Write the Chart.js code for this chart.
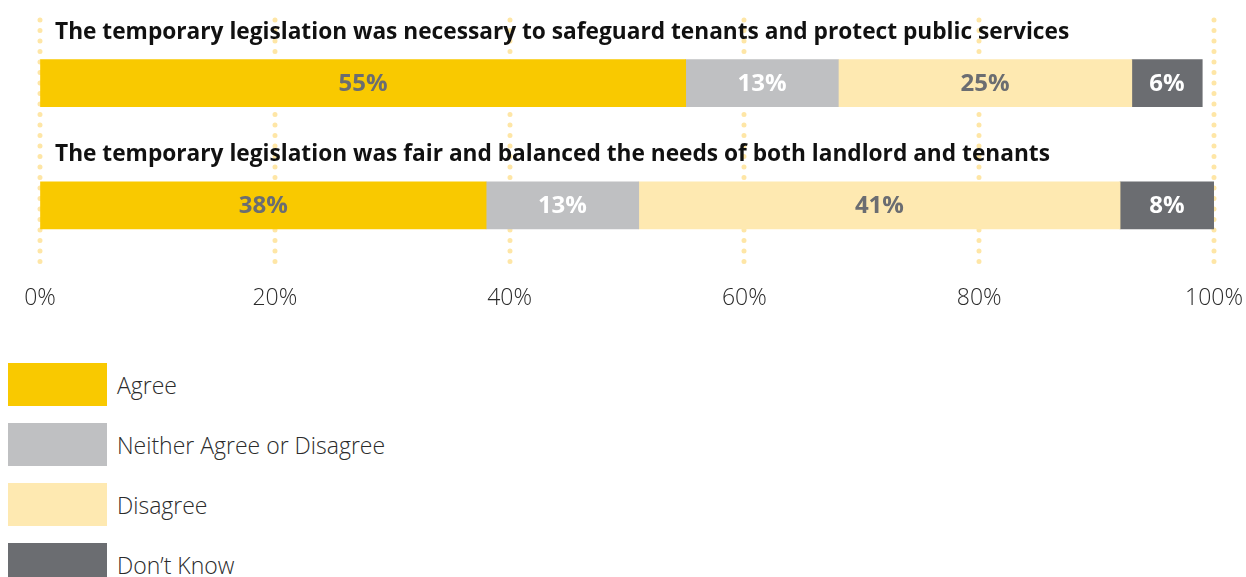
<!DOCTYPE html>
<html>
<head>
<meta charset="utf-8">
<script src="https://cdn.jsdelivr.net/npm/chart.js@4"></script>
<style>
  body { margin: 0; background: #fff; font-family: "Open Sans", sans-serif; }
  #wrap { position: relative; width: 1246px; height: 577px; overflow: hidden; }
  #chartBox { position: absolute; left: 0; top: 0; width: 1246px; height: 322px; }
  #legend { position: absolute; left: 8px; top: 363px; }
  .item { display: flex; align-items: center; height: 43px; margin-bottom: 17px; }
  .swatch { width: 99px; height: 43px; margin-right: 10px; }
  .item span { font-size: 23px; font-weight: 300; color: #2b2b2b; }
</style>
</head>
<body>
<div id="wrap">
  <div id="chartBox"><canvas id="chart"></canvas></div>
  <div id="legend"></div>
</div>
<script>
// statements asked about
let questions = [
    "The temporary legislation was necessary to safeguard tenants and protect public services",
    "The temporary legislation was fair and balanced the needs of both landlord and tenants"
];

let seriesNames = ["Agree", "Neither Agree or Disagree", "Disagree", "Don\u2019t Know"];
let agree = [55, 38];
let neither = [13, 13];
let disagree = [25, 41];
let dontKnow = [6, 8];

let xTicks = [0, 20, 40, 60, 80, 100];

let fillColours = ["#f9c900", "#bfc0c2", "#fee9b1", "#6b6d71"];
let labelColours = ["#6b6d71", "#ffffff", "#6b6d71", "#ffffff"];

let allSeries = [agree, neither, disagree, dontKnow];

// round dotted grid lines behind the bars
const dottedGrid = {
    id: "dottedGrid",
    beforeDatasetsDraw(chart) {
        const ctx = chart.ctx;
        const area = chart.chartArea;
        const x = chart.scales.x;
        ctx.save();
        ctx.strokeStyle = "#fee6a6";
        ctx.lineWidth = 5;
        ctx.lineCap = "round";
        ctx.setLineDash([0, 10.5]);
        xTicks.forEach(function (t) {
            let px = Math.round(x.getPixelForValue(t));
            ctx.beginPath();
            ctx.moveTo(px, area.top - 2);
            ctx.lineTo(px, area.bottom + 3);
            ctx.stroke();
        });
        ctx.restore();
    }
};

// statement above each bar + percentage inside each segment
const barText = {
    id: "barText",
    afterDatasetsDraw(chart) {
        const ctx = chart.ctx;
        const y = chart.scales.y;
        ctx.save();
        ctx.textBaseline = "middle";
        ctx.font = "bold 22.7px 'Open Sans'";
        ctx.fillStyle = "#111111";
        ctx.textAlign = "left";
        questions.forEach(function (q, i) {
            ctx.fillText(q, 55, y.getPixelForValue(i) - 51);
        });
        ctx.textAlign = "center";
        ctx.font = "bold 24px 'Open Sans'";
        chart.data.datasets.forEach(function (ds, d) {
            const meta = chart.getDatasetMeta(d);
            meta.data.forEach(function (bar, i) {
                let left = Math.min(bar.x, bar.base);
                let w = Math.abs(bar.x - bar.base);
                ctx.fillStyle = labelColours[d];
                ctx.fillText(ds.data[i] + "%", left + w / 2, bar.y + 1);
            });
        });
        ctx.restore();
    }
};

let datasets = seriesNames.map(function (name, i) {
    return {
        label: name,
        data: allSeries[i],
        backgroundColor: fillColours[i],
        borderWidth: 0,
        barThickness: 47
    };
});

new Chart(document.getElementById("chart"), {
    type: "bar",
    data: { labels: questions, datasets: datasets },
    options: {
        indexAxis: "y",
        responsive: true,
        maintainAspectRatio: false,
        animation: false,
        layout: { padding: { left: 40, right: 32, top: 22, bottom: 10 } },
        plugins: { legend: { display: false }, tooltip: { enabled: false } },
        scales: {
            x: {
                stacked: true,
                min: 0,
                max: 100,
                afterBuildTicks: function (scale) {
                    scale.ticks = xTicks.map(function (v) { return { value: v }; });
                },
                // invisible tick marks give the gap above the labels
                grid: { display: true, color: "rgba(0,0,0,0)", drawOnChartArea: false, drawTicks: true, tickLength: 18 },
                border: { display: false },
                ticks: {
                    padding: 0,
                    color: "#2b2b2b",
                    font: { family: "Open Sans", size: 23, weight: "300" },
                    callback: function (v) { return v + "%"; }
                }
            },
            y: {
                stacked: true,
                display: false
            }
        }
    },
    plugins: [dottedGrid, barText]
});

// legend list under the chart
let legend = document.getElementById("legend");
seriesNames.forEach(function (name, i) {
    let row = document.createElement("div");
    row.className = "item";
    let sw = document.createElement("div");
    sw.className = "swatch";
    sw.style.background = fillColours[i];
    let txt = document.createElement("span");
    txt.textContent = name;
    row.appendChild(sw);
    row.appendChild(txt);
    legend.appendChild(row);
});
</script>
</body>
</html>
